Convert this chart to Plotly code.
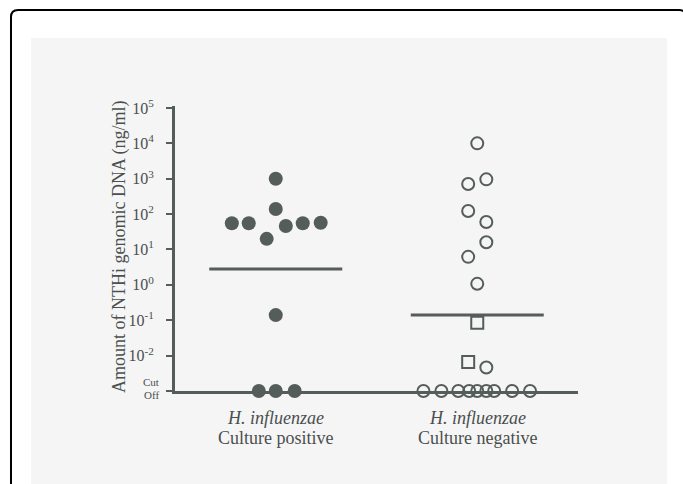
import plotly.graph_objects as go

# ---------------- data ----------------
species = "<i>H. influenzae</i>"
categories = ["Culture positive", "Culture negative"]
CUTOFF = 1e-3  # values below detection are plotted at the cut-off line

pos_values = [1000, 140, 55, 55, 46, 55, 57, 20, 0.14, CUTOFF, CUTOFF, CUTOFF]
pos_median = 2.8

neg_circle_values = [10000, 960, 710, 123, 60, 16, 6.2, 1.07, 0.0046,
                     CUTOFF, CUTOFF, CUTOFF, CUTOFF, CUTOFF, CUTOFF, CUTOFF, CUTOFF, CUTOFF]
neg_square_values = [0.085, 0.0066]
neg_median = 0.14

tick_vals = [1e-3, 1e-2, 1e-1, 1e0, 1e1, 1e2, 1e3, 1e4, 1e5]
tick_text = ["", "10<sup>-2</sup>", "10<sup>-1</sup>", "10<sup>0</sup>", "10<sup>1</sup>",
             "10<sup>2</sup>", "10<sup>3</sup>", "10<sup>4</sup>", "10<sup>5</sup>"]

# beeswarm horizontal offsets (category units) so dots do not overlap
pos_offsets = [0, 0, -0.218, -0.134, 0.05, 0.134, 0.223, -0.045, 0, -0.084, 0, 0.094]
neg_circle_offsets = [0, 0.045, -0.045, -0.045, 0.045, 0.045, -0.045, 0, 0.045,
                      -0.267, -0.178, -0.094, -0.04, 0, 0.045, 0.084, 0.173, 0.262]
neg_square_offsets = [0, -0.045]
median_halfwidth = 0.33

# ---------------- style ----------------
DARK = "#555d5b"
TEXT = "#4a4f4e"
FONT = "Liberation Serif"

fig = go.Figure()

fig.add_trace(go.Scatter(
    x=[0 + o for o in pos_offsets], y=pos_values, mode="markers",
    marker=dict(symbol="circle", size=14, color=DARK, line=dict(width=0)),
    cliponaxis=False, showlegend=False))

fig.add_trace(go.Scatter(
    x=[1 + o for o in neg_circle_offsets], y=neg_circle_values, mode="markers",
    marker=dict(symbol="circle-open", size=12, color=DARK, line=dict(width=2, color=DARK)),
    cliponaxis=False, showlegend=False))

fig.add_trace(go.Scatter(
    x=[1 + o for o in neg_square_offsets], y=neg_square_values, mode="markers",
    marker=dict(symbol="square-open", size=12, color=DARK, line=dict(width=2, color=DARK)),
    cliponaxis=False, showlegend=False))

for ci, med in enumerate([pos_median, neg_median]):
    fig.add_trace(go.Scatter(
        x=[ci - median_halfwidth, ci + median_halfwidth], y=[med, med], mode="lines",
        line=dict(color=DARK, width=3), showlegend=False, hoverinfo="skip"))

# plot area: x 175..578 px, y 106..391 px
L, R, T, B = 175, 578, 106, 391
W, H = R - L, B - T
px = lambda v: (v - L) / W
py = lambda v: (B - v) / H

# gray panel
fig.add_shape(type="rect", xref="paper", yref="paper",
              x0=px(31), x1=px(667), y0=py(500), y1=py(38),
              fillcolor="#f5f5f5", line=dict(width=0), layer="below")
# rounded black border
r = 7
xl, xr, yt, yb = px(11), px(686), py(10), py(500)
rx, ry = r / W, r / H
fig.add_shape(type="path", xref="paper", yref="paper",
              path=(f"M {xl},{yb} L {xl},{yt - ry} Q {xl},{yt} {xl + rx},{yt} "
                    f"L {xr - rx},{yt} Q {xr},{yt} {xr},{yt - ry} L {xr},{yb}"),
              line=dict(color="black", width=2), layer="below")

# y axis title
fig.add_annotation(text="Amount of NTHi genomic DNA (ng/ml)", textangle=-90,
                   xref="paper", yref="paper", x=px(119), y=py(247),
                   xanchor="center", yanchor="middle",
                   showarrow=False, font=dict(family=FONT, size=18, color=TEXT))
# Cut Off label
for word, yy in [("Cut", 382), ("Off", 395)]:
    fig.add_annotation(text=word, xref="paper", yref="paper",
                       x=px(151), y=py(yy), xanchor="center", yanchor="middle",
                       showarrow=False, font=dict(family=FONT, size=11, color=TEXT))
# category labels
for ci, name in enumerate(categories):
    fig.add_annotation(text=species, xref="x", yref="paper", x=ci, y=py(418),
                       xanchor="center", yanchor="middle",
                       showarrow=False, font=dict(family=FONT, size=18, color=TEXT))
    fig.add_annotation(text=name, xref="x", yref="paper", x=ci, y=py(438),
                       xanchor="center", yanchor="middle",
                       showarrow=False, font=dict(family=FONT, size=18, color=TEXT))

fig.update_layout(
    width=683, height=484,
    margin=dict(l=L, r=683 - R, t=T, b=484 - B),
    paper_bgcolor="white", plot_bgcolor="rgba(0,0,0,0)",
    font=dict(family=FONT, color=TEXT),
    xaxis=dict(range=[-0.5, 1.5], showticklabels=False,
               showgrid=False, zeroline=False, showline=True, linecolor=DARK,
               linewidth=3, ticks=""),
    yaxis=dict(type="log", range=[-3, 5.056], tickvals=tick_vals, ticktext=tick_text,
               showgrid=False, zeroline=False, showline=True, linecolor=DARK,
               linewidth=3, ticks="outside", ticklen=6, tickwidth=2, tickcolor=DARK,
               ticklabelstandoff=9,
               tickfont=dict(family=FONT, size=16, color=TEXT)),
)

fig.write_html("out.html", config={"displayModeBar": False},
               post_script="document.body.style.margin='0';document.body.style.overflow='hidden';")
